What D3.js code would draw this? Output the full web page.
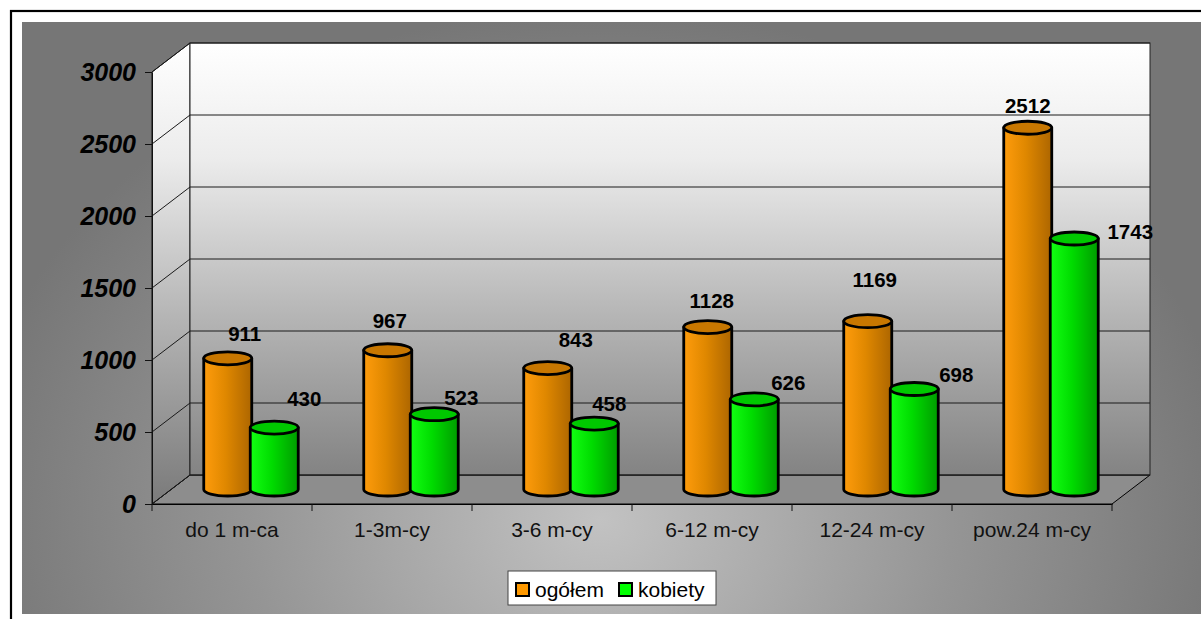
<!DOCTYPE html>
<html>
<head>
<meta charset="utf-8">
<script src="https://cdn.jsdelivr.net/npm/d3@7/dist/d3.min.js"></script>
<style>
  body { margin: 0; background: #fff; }
  text { font-family: "Liberation Sans", Arial, sans-serif; }
</style>
</head>
<body>
<script>
// data
var categories = ["do 1 m-ca", "1-3m-cy", "3-6 m-cy", "6-12 m-cy", "12-24 m-cy", "pow.24 m-cy"];
var seriesNames = ["ogółem", "kobiety"];
var ogolem = [911, 967, 843, 1128, 1169, 2512];
var kobiety = [430, 523, 458, 626, 698, 1743];
var yTicks = [0, 500, 1000, 1500, 2000, 2500, 3000];

// where excel dropped each value label, relative to the cylinder top (px)
var labelNudge = [
    [[17, -17], [2, -22], [28, -21], [4, -19], [7, -34], [0, -15]],
    [[30, -22], [27, -9], [15, -13], [34, -9], [42, -7], [56, 0]]
];

var width = 1201,
    height = 619,
    // depth of the 3d box
    DX = 38,
    DY = -29,
    // cylinder radius and ellipse flattening
    R = 24,
    RY = 6.5;

var seriesColors = [
    { light: "#ff9c0c", mid: "#e08800", dark: "#ad6600", top: "#c87700", key: "#ff9900" },
    { light: "#12ff12", mid: "#00dc00", dark: "#009c00", top: "#00c800", key: "#00ff00" }
];

var x = d3.scaleBand().domain(categories).range([152, 1112]);
var y = d3.scaleLinear().domain([0, 3000]).range([504, 72]);
var sub = d3.scaleBand().domain(seriesNames).range([-46.5, 46.5]);

var svg = d3.select("body").append("svg")
    .attr("width", width)
    .attr("height", height);

var defs = svg.append("defs");

var bg = defs.append("radialGradient").attr("id", "bg")
    .attr("gradientUnits", "userSpaceOnUse")
    .attr("cx", 600).attr("cy", 520).attr("r", 640)
    .attr("gradientTransform", "translate(600,520) scale(1,0.8) translate(-600,-520)");
bg.append("stop").attr("offset", 0).attr("stop-color", "#c2c2c2");
bg.append("stop").attr("offset", 0.55).attr("stop-color", "#959595");
bg.append("stop").attr("offset", 1).attr("stop-color", "#767676");

var wall = defs.append("linearGradient").attr("id", "wall")
    .attr("gradientUnits", "userSpaceOnUse")
    .attr("x1", 0).attr("y1", 43).attr("x2", 0).attr("y2", 504);
wall.append("stop").attr("offset", 0).attr("stop-color", "#ffffff");
wall.append("stop").attr("offset", 0.25).attr("stop-color", "#ececec");
wall.append("stop").attr("offset", 0.6).attr("stop-color", "#b4b4b4");
wall.append("stop").attr("offset", 1).attr("stop-color", "#7a7a7a");

seriesColors.forEach(function(c, i) {
    var g = defs.append("linearGradient").attr("id", "cyl" + i)
        .attr("x1", 0).attr("y1", 0).attr("x2", 1).attr("y2", 0);
    g.append("stop").attr("offset", 0).attr("stop-color", c.light);
    g.append("stop").attr("offset", 0.45).attr("stop-color", c.mid);
    g.append("stop").attr("offset", 1).attr("stop-color", c.dark);
});

// white frame with black border, gray panel inside
svg.append("rect")
    .attr("x", 11).attr("y", 11)
    .attr("width", width).attr("height", height)
    .attr("fill", "#fff").attr("stroke", "#000").attr("stroke-width", 2.2);
svg.append("rect")
    .attr("x", 22).attr("y", 22)
    .attr("width", width - 22).attr("height", 592)
    .attr("fill", "url(#bg)");

var x0 = x.range()[0], x1 = x.range()[1];
var yb = y(0), yt = y(3000);

// floor
svg.append("path")
    .attr("d", "M" + x0 + "," + yb + "L" + x1 + "," + yb + "L" + (x1 + DX) + "," + (yb + DY) +
        "L" + (x0 + DX) + "," + (yb + DY) + "Z")
    .attr("fill", "#8d8d8d").attr("stroke", "#000").attr("stroke-width", 1);

// side wall
svg.append("path")
    .attr("d", "M" + x0 + "," + yb + "L" + x0 + "," + yt + "L" + (x0 + DX) + "," + (yt + DY) +
        "L" + (x0 + DX) + "," + (yb + DY) + "Z")
    .attr("fill", "url(#wall)").attr("stroke", "#111").attr("stroke-width", 1);

// back wall
svg.append("rect")
    .attr("x", x0 + DX).attr("y", yt + DY)
    .attr("width", x1 - x0).attr("height", yb - yt)
    .attr("fill", "url(#wall)").attr("stroke", "#222").attr("stroke-width", 1);

// gridlines: back wall + diagonals on side wall
var grid = svg.append("g").attr("stroke", "#1a1a1a").attr("stroke-width", 1);
grid.selectAll("line.back").data(yTicks).enter().append("line")
    .attr("x1", x0 + DX).attr("x2", x1 + DX)
    .attr("y1", function(d) { return y(d) + DY; })
    .attr("y2", function(d) { return y(d) + DY; });
grid.selectAll("line.side").data(yTicks).enter().append("line")
    .attr("x1", x0).attr("x2", x0 + DX)
    .attr("y1", function(d) { return y(d); })
    .attr("y2", function(d) { return y(d) + DY; });

// y axis
var yAxis = svg.append("g")
    .attr("transform", "translate(" + x0 + ",0)")
    .call(d3.axisLeft(y).tickValues(yTicks).tickFormat(d3.format("d"))
        .tickSize(7).tickSizeOuter(0).tickPadding(9));
yAxis.select(".domain").attr("stroke", "#111");
yAxis.selectAll(".tick line").attr("stroke", "#111");
yAxis.selectAll(".tick text")
    .attr("font-family", "Liberation Sans, Arial, sans-serif")
    .attr("font-size", 25).attr("font-weight", "bold").attr("font-style", "italic")
    .attr("fill", "#000");

// x axis
var xAxis = svg.append("g")
    .attr("transform", "translate(0," + yb + ")")
    .call(d3.axisBottom(x).tickSize(0).tickSizeOuter(0).tickPadding(18));
xAxis.select(".domain").attr("stroke", "#000");
xAxis.selectAll(".tick text")
    .attr("font-family", "Liberation Sans, Arial, sans-serif")
    .attr("font-size", 21).attr("fill", "#111");
var bounds = categories.map(function(c) { return x(c); }).concat([x1]);
svg.append("g").selectAll("line").data(bounds).enter().append("line")
    .attr("x1", function(d) { return d; }).attr("x2", function(d) { return d; })
    .attr("y1", yb).attr("y2", yb + 7)
    .attr("stroke", "#111");

// cylinders
var rows = [];
categories.forEach(function(c, i) {
    rows.push({ cat: c, s: 0, v: ogolem[i], i: i });
    rows.push({ cat: c, s: 1, v: kobiety[i], i: i });
});

function cx(d) {
    return x(d.cat) + x.bandwidth() / 2 + DX / 2 + sub(seriesNames[d.s]) + sub.bandwidth() / 2;
}

var cyl = svg.append("g").selectAll("g").data(rows).enter().append("g");
cyl.append("path")
    .attr("d", function(d) {
        var c = cx(d), y0 = y(0) + DY / 2, y1 = y(d.v) + DY / 2;
        return "M" + (c - R) + "," + y1 + "L" + (c - R) + "," + y0 +
            "A" + R + "," + RY + " 0 0 0 " + (c + R) + "," + y0 +
            "L" + (c + R) + "," + y1 + "Z";
    })
    .attr("fill", function(d) { return "url(#cyl" + d.s + ")"; })
    .attr("stroke", "#000").attr("stroke-width", 2.8).attr("stroke-linejoin", "round");
cyl.append("ellipse")
    .attr("cx", cx)
    .attr("cy", function(d) { return y(d.v) + DY / 2; })
    .attr("rx", R).attr("ry", RY)
    .attr("fill", function(d) { return seriesColors[d.s].top; })
    .attr("stroke", "#000").attr("stroke-width", 2.8);

// value labels
svg.append("g").selectAll("text").data(rows).enter().append("text")
    .attr("x", function(d) { return cx(d) + labelNudge[d.s][d.i][0]; })
    .attr("y", function(d) { return y(d.v) + DY / 2 + labelNudge[d.s][d.i][1]; })
    .attr("text-anchor", "middle")
    .attr("font-size", 20.5).attr("font-weight", "bold").attr("fill", "#000")
    .text(function(d) { return d.v; });

// legend
var legend = svg.append("g").attr("transform", "translate(508,571)");
legend.append("rect")
    .attr("width", 208).attr("height", 34)
    .attr("fill", "#fff").attr("stroke", "#444").attr("stroke-width", 1);
var legX = [8, 111];
seriesNames.forEach(function(name, i) {
    legend.append("rect")
        .attr("x", legX[i]).attr("y", 12)
        .attr("width", 13).attr("height", 13)
        .attr("fill", seriesColors[i].key)
        .attr("stroke", "#000").attr("stroke-width", 2);
    legend.append("text")
        .attr("x", legX[i] + 19).attr("y", 26)
        .attr("font-size", 21).attr("fill", "#000")
        .text(name);
});
</script>
</body>
</html>
